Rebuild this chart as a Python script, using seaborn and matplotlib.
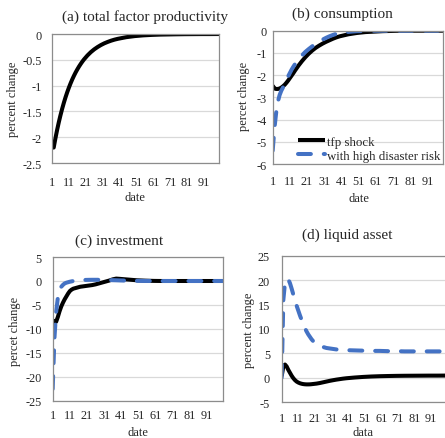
import matplotlib.pyplot as plt
import numpy as np
import pandas as pd
import seaborn as sns

# periods after the shock (denser sampling where the responses move fast)
dates = list(range(1, 21)) + list(range(22, 41, 2)) + list(range(45, 101, 5))

tfp = [-2.2, -2.2, -2.024, -1.862, -1.713, -1.576, -1.450, -1.334, -1.227, -1.129,
       -1.039, -0.956, -0.879, -0.809, -0.744, -0.685, -0.630, -0.580, -0.533, -0.490,
       -0.415, -0.351, -0.297, -0.252, -0.213, -0.180, -0.153, -0.129, -0.109, -0.093,
       -0.061, -0.040, -0.026, -0.017, -0.011, -0.008, -0.005, -0.003, -0.002, -0.001, -0.001, 0.0]

cons_tfp = [-2.47, -2.60, -2.62, -2.62, -2.60, -2.56, -2.50, -2.43, -2.34, -2.24,
            -2.13, -2.02, -1.91, -1.79, -1.68, -1.57, -1.47, -1.37, -1.28, -1.19,
            -1.03, -0.89, -0.77, -0.67, -0.58, -0.50, -0.43, -0.36, -0.30, -0.25,
            -0.16, -0.10, -0.06, -0.04, -0.02, -0.01, 0, 0, 0, 0, 0, 0]
cons_risk = [-5.40, -4.40, -3.70, -3.20, -2.90, -2.70, -2.55, -2.40, -2.22, -2.05,
             -1.90, -1.75, -1.62, -1.50, -1.39, -1.29, -1.20, -1.11, -1.03, -0.95,
             -0.82, -0.70, -0.59, -0.49, -0.40, -0.32, -0.25, -0.19, -0.14, -0.10,
             -0.05, -0.02, -0.01, 0, 0, 0, 0, 0, 0, 0, 0, 0]

inv_tfp = [-11.5, -8.3, -8.5, -7.5, -6.3, -5.3, -4.5, -3.8, -3.2, -2.6,
           -2.1, -1.8, -1.6, -1.5, -1.4, -1.3, -1.2, -1.15, -1.1, -1.05,
           -0.95, -0.85, -0.7, -0.5, -0.3, -0.1, 0.1, 0.35, 0.5, 0.45,
           0.3, 0.15, 0.07, 0.02, 0, 0, 0, 0, 0, 0, 0, 0]
inv_risk = [-22.5, -12.0, -6.5, -3.5, -2.0, -1.2, -0.8, -0.5, -0.35, -0.25,
            -0.15, -0.08, 0.0, 0.05, 0.1, 0.15, 0.18, 0.2, 0.2, 0.22,
            0.24, 0.25, 0.25, 0.25, 0.25, 0.23, 0.2, 0.17, 0.15, 0.12,
            0.06, 0.03, 0.01, 0, 0, 0, 0, 0, 0, 0, 0, 0]

liq_tfp = [0.3, 2.3, 2.7, 2.3, 1.6, 1.0, 0.4, -0.1, -0.5, -0.8,
           -1.0, -1.15, -1.25, -1.32, -1.36, -1.38, -1.38, -1.37, -1.34, -1.30,
           -1.22, -1.10, -0.95, -0.80, -0.65, -0.52, -0.40, -0.30, -0.20, -0.12,
           0.03, 0.15, 0.24, 0.30, 0.34, 0.37, 0.39, 0.40, 0.41, 0.42, 0.42, 0.43]
liq_risk = [0.0, 16.0, 19.5, 20.3, 20.2, 19.4, 18.3, 17.1, 15.9, 14.8,
            13.8, 12.8, 11.9, 11.0, 10.2, 9.5, 8.9, 8.4, 7.9, 7.5,
            6.9, 6.6, 6.3, 6.1, 6.0, 5.9, 5.8, 5.75, 5.7, 5.65,
            5.6, 5.55, 5.5, 5.5, 5.45, 5.45, 5.4, 5.4, 5.4, 5.4, 5.4, 5.4]

xticks = list(range(1, 92, 10))
BLUE = "#4472C4"

sns.set_style("white")
plt.rcParams["font.family"] = ["Liberation Serif", "DejaVu Serif"]
plt.rcParams["axes.unicode_minus"] = False

fig = plt.figure(figsize=(4.45, 4.39), dpi=100)

panels = [
    # title, ylabel, xlabel, series, yticks, axes rect, title pos, label coords, pads
    ("(a) total factor productivity", "percent change", "date", [tfp],
     np.arange(-2.5, 0.01, 0.5), [0.1169, 0.6264, 0.3753, 0.2938], (145, 17),
     (-0.2335, 0.5), (0.499, -0.264), (7.5, 9.0)),
    ("(b) consumption", "percet change", "date", [cons_tfp, cons_risk],
     np.arange(-6, 0.01, 1), [0.6128, 0.6241, 0.3827, 0.3036], (342, 14),
     (-0.1685, 0.512), (0.508, -0.257), (4.5, 8.0)),
    ("(c) investment", "percet change", "date", [inv_tfp, inv_risk],
     np.arange(-25, 5.01, 5), [0.1184, 0.0843, 0.382, 0.328], (119, 241),
     (-0.222, 0.488), (0.504, -0.217), (8.0, 6.0)),
    ("(d) liquid asset", "percent change", "data", [liq_tfp, liq_risk],
     np.arange(-5, 25.01, 5), [0.633, 0.082, 0.369, 0.3326], (347, 235),
     (-0.199, 0.5), (0.497, -0.205), (8.5, 7.5)),
]

for title, ylab, xlab, series, yt, rect, tpos, ylc, xlc, pads in panels:
    ax = fig.add_axes(rect)
    styles = [("black", None, 2.9), (BLUE, (3.2, 3.2), 2.9)]
    names = ["tfp shock", "with high disaster risk"]
    for vals, (col, dash, lw), name in zip(series, styles, names):
        df = pd.DataFrame({"date": dates, "value": vals})
        sns.lineplot(data=df, x="date", y="value", color=col, lw=lw,
                     ax=ax, label=name, legend=False)
        ln = ax.lines[-1]
        ln.set_solid_capstyle("butt")
        if dash is not None:
            ln.set_dashes(dash)
            ln.set_dash_capstyle("round")
    ax.set_xlim(1, 100)
    ax.set_ylim(yt[0], yt[-1])
    ax.set_xticks(xticks)
    ax.set_yticks(yt)
    ax.set_yticklabels([f"{v:g}" for v in yt])
    ax.grid(axis="y", color="#D9D9D9", lw=0.9)
    ax.set_axisbelow(True)
    for sp in ax.spines.values():
        sp.set_color("#8C8C8C")
        sp.set_linewidth(0.9)
    ax.tick_params(axis="y", length=0, pad=pads[0], labelsize=8.8)
    ax.tick_params(axis="x", length=0, pad=pads[1], labelsize=8.8)
    ax.set_ylabel(ylab, fontsize=9)
    ax.set_xlabel(xlab, fontsize=9)
    ax.yaxis.set_label_coords(*ylc)
    ax.xaxis.set_label_coords(*xlc)
    ax.yaxis.label.set_verticalalignment("center")
    ax.xaxis.label.set_verticalalignment("center")
    fig.text(tpos[0] / 445, 1 - tpos[1] / 439, title, fontsize=11,
             ha="center", va="center")
    if title.startswith("(b)"):
        ax.legend(loc="lower left", bbox_to_anchor=(0.12, -0.02), frameon=False,
                  fontsize=9.3, handlelength=2.1, handletextpad=0.1,
                  labelspacing=0.15, borderaxespad=0)

plt.savefig("out.png", dpi=100)
